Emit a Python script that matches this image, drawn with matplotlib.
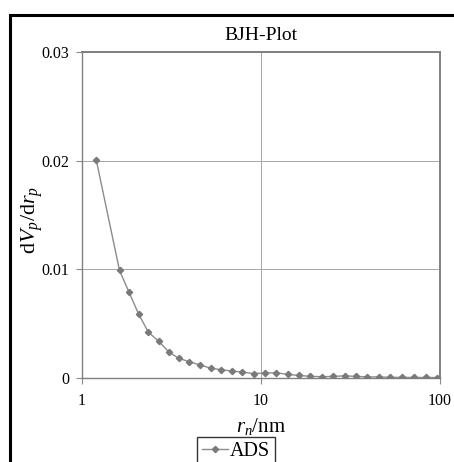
import matplotlib
matplotlib.use("Agg")
import matplotlib.pyplot as plt
from matplotlib.patches import Rectangle

plt.rcParams['font.family'] = ['Liberation Serif', 'DejaVu Serif']
plt.rcParams['mathtext.fontset'] = 'custom'
plt.rcParams['mathtext.rm'] = 'Liberation Serif'
plt.rcParams['mathtext.it'] = 'Liberation Serif:italic'

# pore radius (nm) and BJH adsorption distribution
pore_radius = [1.2, 1.62, 1.83, 2.07, 2.35, 2.68, 3.05, 3.48, 3.98, 4.56, 5.26,
               6.0, 6.86, 7.86, 9.1, 10.5, 12.2, 14.1, 16.2, 18.8, 22.0, 25.4,
               29.4, 33.8, 39.2, 45.5, 52.9, 61.3, 71.5, 83.4, 95.7]
dv_dr = [0.0201, 0.0099, 0.0079, 0.0059, 0.0042, 0.0034, 0.0024, 0.0018, 0.0015,
         0.0012, 0.0009, 0.00076, 0.00064, 0.00055, 0.0004, 0.00046, 0.00048,
         0.00033, 0.00024, 0.00015, 0.00012, 0.00015, 0.0002, 0.00015, 0.0001,
         0.0001, 0.00006, 0.00006, 0.00005, 0.00005, 0.00004]
x_ticks = [1, 10, 100]
x_ticklabels = ['1', '10', '100']
y_ticks = [0, 0.01, 0.02, 0.03]
y_ticklabels = ['0', '0.01', '0.02', '0.03']

W, H = 454, 462
fig = plt.figure(figsize=(W / 100, H / 100), dpi=100)

# outer chart frame
fig.patches.append(Rectangle((10 / W, -0.1), 1.2, 1 - 15 / H + 0.1,
                             transform=fig.transFigure, fill=False,
                             edgecolor='black', linewidth=2.2))

ax = fig.add_axes([82 / W, 1 - 378 / H, (440 - 82) / W, (378 - 52) / H])
ax.plot(pore_radius, dv_dr, color='#8c8c8c', linewidth=1.0, marker='D',
        markersize=3.2, markerfacecolor='#7a7a7a', markeredgecolor='#7a7a7a',
        label='ADS', zorder=3)
ax.set_xscale('log')
ax.set_xlim(1, 100)
ax.set_ylim(0, 0.03)
ax.set_xticks(x_ticks)
ax.set_xticklabels(x_ticklabels)
ax.minorticks_off()
ax.set_yticks(y_ticks)
ax.set_yticklabels(y_ticklabels)
ax.tick_params(axis='both', labelsize=11.5, direction='out', length=4,
               width=0.8, color='#8c8c8c')
ax.tick_params(axis='x', pad=7)
ax.tick_params(axis='y', pad=5)
ax.grid(True, color='#a6a6a6', linewidth=0.7)
for side in ['left', 'bottom', 'top', 'right']:
    ax.spines[side].set_color('#808080')
    ax.spines[side].set_linewidth(1.0)
ax.spines['top'].set_linewidth(1.4)
ax.spines['right'].set_linewidth(1.4)

ax.set_title('BJH-Plot', fontsize=14, pad=9)
ax.set_ylabel(r'd$V_p$/d$r_p$', fontsize=16)
ax.yaxis.set_label_coords((45 - 82) / 358, (378 - 219.5) / 326)
ax.set_xlabel(r'$r_n$/nm', fontsize=15, labelpad=5)

leg = fig.legend(handles=ax.get_lines(), loc='upper center',
                 bbox_to_anchor=(236 / W, 1 - 437 / H), frameon=True,
                 fancybox=False, edgecolor='black', fontsize=14.5,
                 handlelength=1.3, handletextpad=0.1, borderpad=0.25,
                 borderaxespad=0)
leg.get_frame().set_linewidth(1.0)

fig.savefig('out.png', dpi=100)
